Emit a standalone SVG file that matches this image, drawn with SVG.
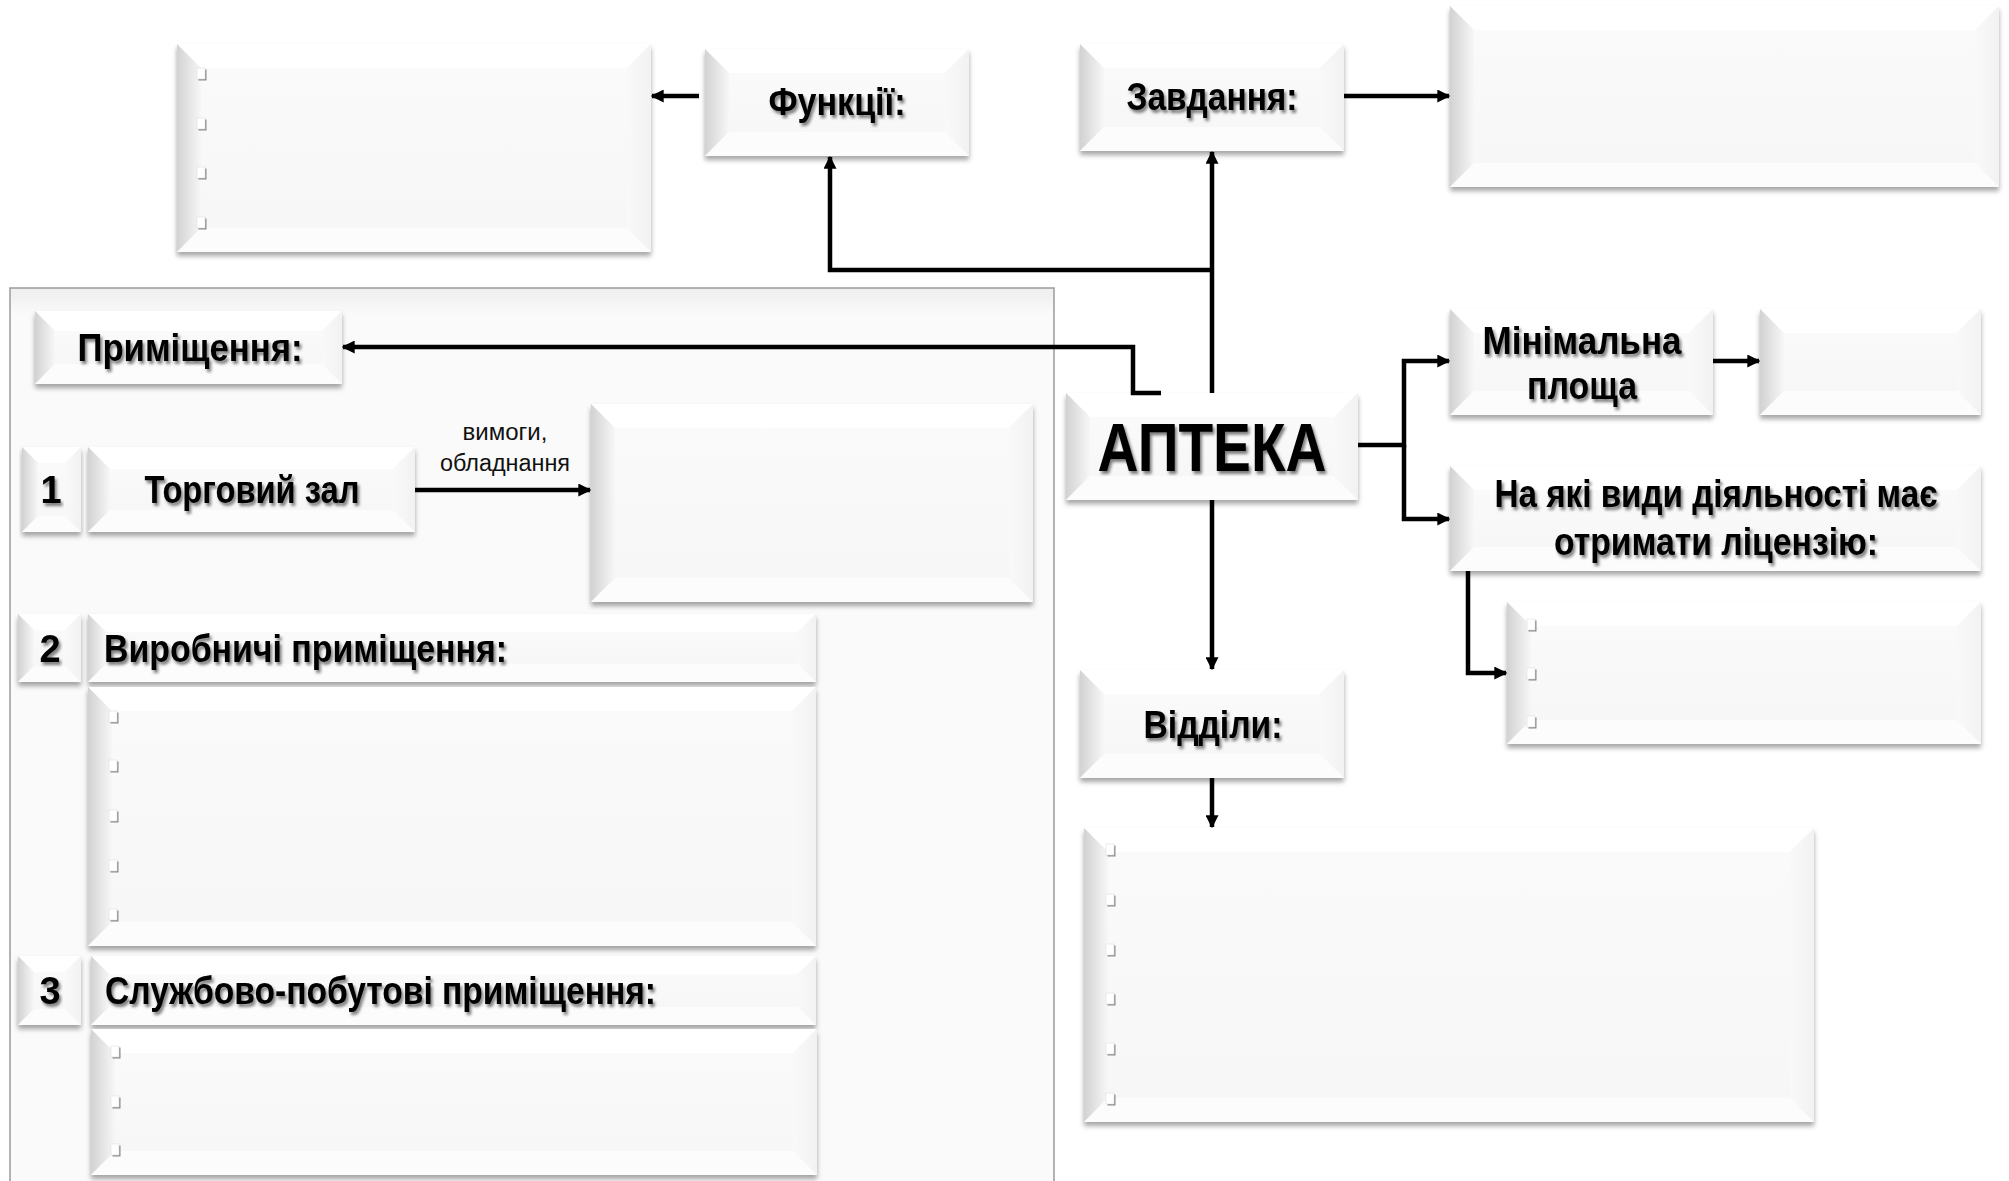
<svg xmlns="http://www.w3.org/2000/svg" width="2009" height="1181" viewBox="0 0 2009 1181">
<style>
.bs{fill:#f4f4f4;filter:url(#sh)}
.bt{fill:#ffffff}
.bl{fill:url(#gL)}
.br{fill:url(#gR)}
.bb{fill:#fcfcfc}
.bf{fill:url(#gF)}
.t{font-family:'Liberation Sans',Arial,sans-serif;font-weight:bold;fill:#000;filter:url(#ts)}
.s{font-family:'Liberation Sans',Arial,sans-serif;fill:#111}
.c path{fill:none;stroke:#000;stroke-width:4.5;marker-end:url(#ar)}
</style>
<defs>
<filter id="sh" x="-5%" y="-10%" width="110%" height="125%">
<feDropShadow dx="0" dy="4" stdDeviation="2.5" flood-color="#000" flood-opacity="0.35"/>
</filter>
<filter id="ts" x="-5%" y="-20%" width="115%" height="150%">
<feDropShadow dx="2" dy="3" stdDeviation="1.6" flood-color="#000" flood-opacity="0.5"/>
</filter>
<linearGradient id="gL" x1="0" y1="0" x2="1" y2="0"><stop offset="0" stop-color="#d2d2d2"/><stop offset="1" stop-color="#f7f7f7"/></linearGradient>
<linearGradient id="gR" x1="0" y1="0" x2="1" y2="0"><stop offset="0" stop-color="#f9f9f9"/><stop offset="1" stop-color="#f2f2f2"/></linearGradient>
<linearGradient id="gF" x1="0" y1="0" x2="0" y2="1"><stop offset="0" stop-color="#fafafa"/><stop offset="1" stop-color="#f7f7f7"/></linearGradient>
<linearGradient id="gC" x1="0" y1="0" x2="0" y2="1"><stop offset="0" stop-color="#eeeeee"/><stop offset="0.03" stop-color="#fafafa"/><stop offset="1" stop-color="#fafafa"/></linearGradient>
<marker id="ar" viewBox="0 0 10 10" refX="9" refY="5" markerWidth="13" markerHeight="13" markerUnits="userSpaceOnUse" orient="auto">
<path d="M0,0 L10,5 L0,10 z" fill="#000"/>
</marker>
<g id="bu"><rect x="1.5" y="1.5" width="8" height="11" fill="#8a8a8a"/><rect x="0" y="0" width="8" height="11" fill="#fff" stroke="#dcdcdc" stroke-width="0.6"/></g>
</defs>
<rect width="2009" height="1181" fill="#fff"/>

<g id="container">
<rect x="10" y="288" width="1044" height="910" fill="url(#gC)" stroke="#9a9a9a" stroke-width="1.5"/>
</g>

<g id="funcList">
<rect class="bs" x="177" y="44" width="474" height="208"/>
<polygon class="bt" points="177,44 651,44 627,68 201,68"/>
<polygon class="bl" points="177,44 201,68 201,228 177,252"/>
<polygon class="br" points="651,44 651,252 627,228 627,68"/>
<polygon class="bb" points="177,252 201,228 627,228 651,252"/>
<rect class="bf" x="201" y="68" width="426" height="160"/>
<use href="#bu" x="197" y="68"/><use href="#bu" x="197" y="118"/><use href="#bu" x="197" y="167"/><use href="#bu" x="197" y="217"/>
</g>

<g id="func">
<rect class="bs" x="705" y="49" width="264" height="107"/>
<polygon class="bt" points="705,49 969,49 945,73 729,73"/>
<polygon class="bl" points="705,49 729,73 729,132 705,156"/>
<polygon class="br" points="969,49 969,156 945,132 945,73"/>
<polygon class="bb" points="705,156 729,132 945,132 969,156"/>
<rect class="bf" x="729" y="73" width="216" height="59"/>
<text class="t" x="837" y="115" font-size="38" text-anchor="middle" textLength="137" lengthAdjust="spacingAndGlyphs">Функції:</text>
</g>

<g id="zavd">
<rect class="bs" x="1080" y="44" width="264" height="107"/>
<polygon class="bt" points="1080,44 1344,44 1320,68 1104,68"/>
<polygon class="bl" points="1080,44 1104,68 1104,127 1080,151"/>
<polygon class="br" points="1344,44 1344,151 1320,127 1320,68"/>
<polygon class="bb" points="1080,151 1104,127 1320,127 1344,151"/>
<rect class="bf" x="1104" y="68" width="216" height="59"/>
<text class="t" x="1212" y="110" font-size="38" text-anchor="middle" textLength="171" lengthAdjust="spacingAndGlyphs">Завдання:</text>
</g>

<g id="zavdList">
<rect class="bs" x="1450" y="6" width="549" height="181"/>
<polygon class="bt" points="1450,6 1999,6 1975,30 1474,30"/>
<polygon class="bl" points="1450,6 1474,30 1474,163 1450,187"/>
<polygon class="br" points="1999,6 1999,187 1975,163 1975,30"/>
<polygon class="bb" points="1450,187 1474,163 1975,163 1999,187"/>
<rect class="bf" x="1474" y="30" width="501" height="133"/>
</g>

<g id="prym">
<rect class="bs" x="35" y="311" width="307" height="73"/>
<polygon class="bt" points="35,311 342,311 322,331 55,331"/>
<polygon class="bl" points="35,311 55,331 55,364 35,384"/>
<polygon class="br" points="342,311 342,384 322,364 322,331"/>
<polygon class="bb" points="35,384 55,364 322,364 342,384"/>
<rect class="bf" x="55" y="331" width="267" height="33"/>
<text class="t" x="190" y="361" font-size="38" text-anchor="middle" textLength="225" lengthAdjust="spacingAndGlyphs">Приміщення:</text>
</g>

<g id="n1">
<rect class="bs" x="22" y="447" width="59" height="85"/>
<polygon class="bt" points="22,447 81,447 65,463 38,463"/>
<polygon class="bl" points="22,447 38,463 38,516 22,532"/>
<polygon class="br" points="81,447 81,532 65,516 65,463"/>
<polygon class="bb" points="22,532 38,516 65,516 81,532"/>
<rect class="bf" x="38" y="463" width="27" height="53"/>
<text class="t" x="51" y="503" font-size="38" text-anchor="middle">1</text>
</g>

<g id="torg">
<rect class="bs" x="88" y="447" width="327" height="85"/>
<polygon class="bt" points="88,447 415,447 393,469 110,469"/>
<polygon class="bl" points="88,447 110,469 110,510 88,532"/>
<polygon class="br" points="415,447 415,532 393,510 393,469"/>
<polygon class="bb" points="88,532 110,510 393,510 415,532"/>
<rect class="bf" x="110" y="469" width="283" height="41"/>
<text class="t" x="252" y="503" font-size="38" text-anchor="middle" textLength="215" lengthAdjust="spacingAndGlyphs">Торговий зал</text>
</g>

<g id="torgList">
<rect class="bs" x="591" y="404" width="442" height="198"/>
<polygon class="bt" points="591,404 1033,404 1009,428 615,428"/>
<polygon class="bl" points="591,404 615,428 615,578 591,602"/>
<polygon class="br" points="1033,404 1033,602 1009,578 1009,428"/>
<polygon class="bb" points="591,602 615,578 1009,578 1033,602"/>
<rect class="bf" x="615" y="428" width="394" height="150"/>
</g>

<g id="n2">
<rect class="bs" x="18" y="614" width="63" height="68"/>
<polygon class="bt" points="18,614 81,614 65,630 34,630"/>
<polygon class="bl" points="18,614 34,630 34,666 18,682"/>
<polygon class="br" points="81,614 81,682 65,666 65,630"/>
<polygon class="bb" points="18,682 34,666 65,666 81,682"/>
<rect class="bf" x="34" y="630" width="31" height="36"/>
<text class="t" x="50" y="662" font-size="38" text-anchor="middle">2</text>
</g>

<g id="vyrob">
<rect class="bs" x="88" y="614" width="728" height="68"/>
<polygon class="bt" points="88,614 816,614 798,632 106,632"/>
<polygon class="bl" points="88,614 106,632 106,664 88,682"/>
<polygon class="br" points="816,614 816,682 798,664 798,632"/>
<polygon class="bb" points="88,682 106,664 798,664 816,682"/>
<rect class="bf" x="106" y="632" width="692" height="32"/>
<text class="t" x="104" y="662" font-size="38" textLength="403" lengthAdjust="spacingAndGlyphs">Виробничі приміщення:</text>
</g>

<g id="vyrobList">
<rect class="bs" x="88" y="687" width="728" height="259"/>
<polygon class="bt" points="88,687 816,687 792,711 112,711"/>
<polygon class="bl" points="88,687 112,711 112,922 88,946"/>
<polygon class="br" points="816,687 816,946 792,922 792,711"/>
<polygon class="bb" points="88,946 112,922 792,922 816,946"/>
<rect class="bf" x="112" y="711" width="680" height="211"/>
<use href="#bu" x="109" y="711"/><use href="#bu" x="109" y="760"/><use href="#bu" x="109" y="810"/><use href="#bu" x="109" y="860"/><use href="#bu" x="109" y="909"/>
</g>

<g id="n3">
<rect class="bs" x="18" y="956" width="63" height="69"/>
<polygon class="bt" points="18,956 81,956 65,972 34,972"/>
<polygon class="bl" points="18,956 34,972 34,1009 18,1025"/>
<polygon class="br" points="81,956 81,1025 65,1009 65,972"/>
<polygon class="bb" points="18,1025 34,1009 65,1009 81,1025"/>
<rect class="bf" x="34" y="972" width="31" height="37"/>
<text class="t" x="50" y="1004" font-size="38" text-anchor="middle">3</text>
</g>

<g id="sluzh">
<rect class="bs" x="91" y="956" width="725" height="69"/>
<polygon class="bt" points="91,956 816,956 798,974 109,974"/>
<polygon class="bl" points="91,956 109,974 109,1007 91,1025"/>
<polygon class="br" points="816,956 816,1025 798,1007 798,974"/>
<polygon class="bb" points="91,1025 109,1007 798,1007 816,1025"/>
<rect class="bf" x="109" y="974" width="689" height="33"/>
<text class="t" x="105" y="1004" font-size="38" textLength="551" lengthAdjust="spacingAndGlyphs">Службово-побутові приміщення:</text>
</g>

<g id="sluzhList">
<rect class="bs" x="91" y="1029" width="726" height="146"/>
<polygon class="bt" points="91,1029 817,1029 793,1053 115,1053"/>
<polygon class="bl" points="91,1029 115,1053 115,1151 91,1175"/>
<polygon class="br" points="817,1029 817,1175 793,1151 793,1053"/>
<polygon class="bb" points="91,1175 115,1151 793,1151 817,1175"/>
<rect class="bf" x="115" y="1053" width="678" height="98"/>
<use href="#bu" x="111" y="1046"/><use href="#bu" x="111" y="1096"/><use href="#bu" x="111" y="1144"/>
</g>

<g id="apteka">
<rect class="bs" x="1066" y="393" width="292" height="107"/>
<polygon class="bt" points="1066,393 1358,393 1334,417 1090,417"/>
<polygon class="bl" points="1066,393 1090,417 1090,476 1066,500"/>
<polygon class="br" points="1358,393 1358,500 1334,476 1334,417"/>
<polygon class="bb" points="1066,500 1090,476 1334,476 1358,500"/>
<rect class="bf" x="1090" y="417" width="244" height="59"/>
<text class="t" x="1212" y="471" font-size="69" text-anchor="middle" textLength="229" lengthAdjust="spacingAndGlyphs">АПТЕКА</text>
</g>

<g id="minPl">
<rect class="bs" x="1450" y="309" width="263" height="106"/>
<polygon class="bt" points="1450,309 1713,309 1689,333 1474,333"/>
<polygon class="bl" points="1450,309 1474,333 1474,391 1450,415"/>
<polygon class="br" points="1713,309 1713,415 1689,391 1689,333"/>
<polygon class="bb" points="1450,415 1474,391 1689,391 1713,415"/>
<rect class="bf" x="1474" y="333" width="215" height="58"/>
<text class="t" x="1582" y="354" font-size="38" text-anchor="middle" textLength="199" lengthAdjust="spacingAndGlyphs">Мінімальна</text>
<text class="t" x="1582" y="399" font-size="38" text-anchor="middle" textLength="110" lengthAdjust="spacingAndGlyphs">площа</text>
</g>

<g id="minList">
<rect class="bs" x="1760" y="309" width="221" height="106"/>
<polygon class="bt" points="1760,309 1981,309 1957,333 1784,333"/>
<polygon class="bl" points="1760,309 1784,333 1784,391 1760,415"/>
<polygon class="br" points="1981,309 1981,415 1957,391 1957,333"/>
<polygon class="bb" points="1760,415 1784,391 1957,391 1981,415"/>
<rect class="bf" x="1784" y="333" width="173" height="58"/>
</g>

<g id="licHead">
<rect class="bs" x="1450" y="466" width="531" height="105"/>
<polygon class="bt" points="1450,466 1981,466 1957,490 1474,490"/>
<polygon class="bl" points="1450,466 1474,490 1474,547 1450,571"/>
<polygon class="br" points="1981,466 1981,571 1957,547 1957,490"/>
<polygon class="bb" points="1450,571 1474,547 1957,547 1981,571"/>
<rect class="bf" x="1474" y="490" width="483" height="57"/>
<text class="t" x="1716" y="507" font-size="38" text-anchor="middle" textLength="443" lengthAdjust="spacingAndGlyphs">На які види діяльності має</text>
<text class="t" x="1716" y="555" font-size="38" text-anchor="middle" textLength="324" lengthAdjust="spacingAndGlyphs">отримати ліцензію:</text>
</g>

<g id="licList">
<rect class="bs" x="1507" y="602" width="474" height="142"/>
<polygon class="bt" points="1507,602 1981,602 1957,626 1531,626"/>
<polygon class="bl" points="1507,602 1531,626 1531,720 1507,744"/>
<polygon class="br" points="1981,602 1981,744 1957,720 1957,626"/>
<polygon class="bb" points="1507,744 1531,720 1957,720 1981,744"/>
<rect class="bf" x="1531" y="626" width="426" height="94"/>
<use href="#bu" x="1527" y="619"/><use href="#bu" x="1527" y="668"/><use href="#bu" x="1527" y="716"/>
</g>

<g id="viddil">
<rect class="bs" x="1080" y="670" width="264" height="108"/>
<polygon class="bt" points="1080,670 1344,670 1320,694 1104,694"/>
<polygon class="bl" points="1080,670 1104,694 1104,754 1080,778"/>
<polygon class="br" points="1344,670 1344,778 1320,754 1320,694"/>
<polygon class="bb" points="1080,778 1104,754 1320,754 1344,778"/>
<rect class="bf" x="1104" y="694" width="216" height="60"/>
<text class="t" x="1213" y="738" font-size="38" text-anchor="middle" textLength="139" lengthAdjust="spacingAndGlyphs">Відділи:</text>
</g>

<g id="viddList">
<rect class="bs" x="1084" y="828" width="730" height="294"/>
<polygon class="bt" points="1084,828 1814,828 1790,852 1108,852"/>
<polygon class="bl" points="1084,828 1108,852 1108,1098 1084,1122"/>
<polygon class="br" points="1814,828 1814,1122 1790,1098 1790,852"/>
<polygon class="bb" points="1084,1122 1108,1098 1790,1098 1814,1122"/>
<rect class="bf" x="1108" y="852" width="682" height="246"/>
<use href="#bu" x="1106" y="844"/><use href="#bu" x="1106" y="894"/><use href="#bu" x="1106" y="944"/><use href="#bu" x="1106" y="993"/><use href="#bu" x="1106" y="1043"/><use href="#bu" x="1106" y="1093"/>
</g>

<g id="connectors" class="c">
<path d="M699,96 H652"/>
<path d="M1344,96 H1449"/>
<path d="M1212,393 V152"/>
<path d="M1212,270 H830 V157"/>
<path d="M1161,393 H1133 V347 H343"/>
<path d="M415,490 H590"/>
<path d="M1358,445 H1404 V361 H1449"/>
<path d="M1404,445 V519 H1449"/>
<path d="M1713,361 H1759"/>
<path d="M1468,571 V673 H1506"/>
<path d="M1212,500 V669"/>
<path d="M1212,778 V827"/>
<text class="s" x="505" y="440" font-size="23" text-anchor="middle" textLength="85" lengthAdjust="spacingAndGlyphs">вимоги,</text>
<text class="s" x="505" y="471" font-size="23" text-anchor="middle" textLength="130" lengthAdjust="spacingAndGlyphs">обладнання</text>
</g>
</svg>
